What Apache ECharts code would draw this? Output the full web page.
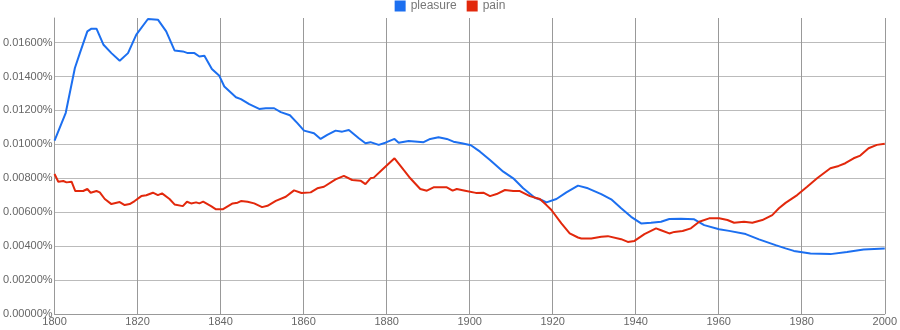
<!DOCTYPE html>
<html>
<head>
<meta charset="utf-8">
<script src="https://cdn.jsdelivr.net/npm/echarts@6/dist/echarts.min.js"></script>
<style>
html,body{margin:0;padding:0;background:#fff;}
#chart{width:900px;height:330px;}
</style>
</head>
<body>
<div id="chart"></div>
<script>
const seriesNames = ['pleasure', 'pain'];
const xTicks = [1800, 1820, 1840, 1860, 1880, 1900, 1920, 1940, 1960, 1980, 2000];

const pleasureYears = [1800,1802.7,1804.9,1806.1,1807.9,1808.9,1810.1,1811.8,1813.7,1815.7,1817.7,1819.7,1822.5,1824.9,1826.9,1828.9,1830.9,1832.1,1833.7,1834.9,1836.1,1837.9,1839.7,1840.9,1843.7,1844.9,1846.9,1849.3,1850.9,1852.9,1854.5,1856.7,1858.5,1860.1,1862.5,1864.1,1865.7,1867.7,1869.3,1870.9,1873.3,1874.9,1876.1,1878.1,1879.7,1881.9,1882.9,1885.3,1888.9,1890.5,1892.5,1894.5,1896.1,1898.1,1900.3,1902.5,1904.9,1908.1,1910.5,1912.9,1915.7,1917.3,1918.5,1920.9,1923.3,1926.1,1928.5,1931.7,1934.1,1936.5,1938.9,1941.3,1943.7,1946.1,1948.1,1950.9,1954.1,1956.5,1960.1,1962.5,1966.5,1969.7,1973.7,1976.1,1978.1,1982.1,1986.9,1990.9,1994.9,2000];
const pleasureValues = [0.01022,0.01186,0.01450,0.01538,0.01666,0.01682,0.01682,0.01587,0.01538,0.01493,0.01538,0.01647,0.01739,0.01735,0.01666,0.01554,0.01548,0.01538,0.01538,0.01518,0.01522,0.01444,0.01404,0.01341,0.01278,0.01267,0.01237,0.01209,0.01213,0.01213,0.01190,0.01172,0.01125,0.01081,0.01066,0.01032,0.01056,0.01081,0.01075,0.01085,0.01036,0.01007,0.01013,0.00997,0.01010,0.01032,0.01010,0.01020,0.01013,0.01032,0.01042,0.01032,0.01016,0.01007,0.00995,0.00957,0.00908,0.00839,0.00800,0.00741,0.00685,0.00672,0.00658,0.00678,0.00717,0.00757,0.00741,0.00707,0.00676,0.00623,0.00573,0.00534,0.00538,0.00544,0.00560,0.00561,0.00558,0.00524,0.00500,0.00490,0.00471,0.00440,0.00406,0.00387,0.00372,0.00357,0.00353,0.00366,0.00380,0.00386];

const painYears = [1800,1800.9,1802.1,1802.9,1804.1,1805.0,1806.9,1807.9,1808.7,1810.1,1810.9,1812.1,1813.7,1815.7,1816.9,1818.1,1819.3,1820.9,1822.1,1823.7,1824.9,1825.9,1827.7,1828.9,1830.9,1831.9,1832.9,1834.1,1834.9,1835.8,1837.7,1838.9,1840.5,1842.9,1844.1,1844.9,1846.5,1848.1,1850.0,1851.3,1853.3,1855.7,1857.7,1859.5,1861.7,1863.3,1864.9,1867.7,1869.7,1871.7,1873.7,1874.9,1876.1,1876.9,1879.3,1881.9,1884.1,1885.7,1888.1,1889.7,1891.3,1894.5,1895.9,1896.9,1898.9,1901.5,1903.3,1904.9,1906.5,1908.5,1910.5,1912.1,1914.5,1916.9,1918.5,1919.7,1922.1,1924.1,1926.1,1926.9,1929.3,1931.7,1933.3,1936.5,1938.1,1939.7,1942.1,1944.9,1946.1,1948.1,1949.3,1951.3,1953.3,1955.3,1957.7,1960.1,1962.1,1963.7,1966.1,1968.1,1970.5,1972.9,1974.5,1976.1,1978.9,1981.3,1983.7,1986.9,1988.9,1990.5,1992.5,1994.1,1996.1,1998.1,2000];
const painValues = [0.00825,0.00780,0.00784,0.00776,0.00780,0.00725,0.00725,0.00737,0.00715,0.00725,0.00717,0.00678,0.00648,0.00660,0.00642,0.00648,0.00666,0.00695,0.00700,0.00715,0.00701,0.00711,0.00678,0.00646,0.00636,0.00662,0.00652,0.00658,0.00652,0.00662,0.00636,0.00617,0.00617,0.00652,0.00656,0.00666,0.00662,0.00652,0.00630,0.00638,0.00667,0.00691,0.00729,0.00713,0.00717,0.00741,0.00750,0.00794,0.00814,0.00790,0.00786,0.00766,0.00800,0.00804,0.00859,0.00918,0.00849,0.00800,0.00737,0.00727,0.00747,0.00747,0.00727,0.00737,0.00727,0.00714,0.00715,0.00695,0.00707,0.00731,0.00725,0.00725,0.00695,0.00678,0.00642,0.00613,0.00534,0.00475,0.00451,0.00445,0.00445,0.00455,0.00459,0.00441,0.00425,0.00431,0.00471,0.00505,0.00494,0.00475,0.00484,0.00489,0.00505,0.00544,0.00564,0.00564,0.00554,0.00538,0.00544,0.00538,0.00554,0.00583,0.00623,0.00655,0.00701,0.00750,0.00800,0.00859,0.00873,0.00889,0.00918,0.00934,0.00977,0.00997,0.01003];

const pairs = (xs, ys) => xs.map((x, i) => [x, ys[i]]);
const FONT = '"Liberation Sans", Arial, sans-serif';

const chart = echarts.init(document.getElementById('chart'), null, {renderer: 'canvas'});
chart.setOption({
  animation: false,
  backgroundColor: '#ffffff',
  textStyle: {fontFamily: FONT},
  legend: {
    top: 0, left: 'center', padding: [0, 5, 0, 5],
    itemWidth: 11, itemHeight: 11, itemGap: 10,
    icon: 'rect',
    textStyle: {fontFamily: FONT, fontSize: 12, color: '#777'},
    data: seriesNames
  },
  grid: {left: 53, right: 14, top: 18, bottom: 16, containLabel: false},
  xAxis: {
    type: 'value', min: xTicks[0], max: xTicks[xTicks.length - 1], interval: 20,
    axisLine: {show: true, lineStyle: {color: '#999', width: 1}},
    axisTick: {show: false},
    axisLabel: {color: '#666', fontSize: 11, fontFamily: FONT, margin: 2,
      formatter: v => String(v)},
    splitLine: {show: true, lineStyle: {color: '#999', width: 1}}
  },
  yAxis: {
    type: 'value', min: 0, max: 0.01745, interval: 0.002,
    axisLine: {show: true, lineStyle: {color: '#999', width: 1}},
    axisTick: {show: false},
    axisLabel: {color: '#666', fontSize: 11, fontFamily: FONT, margin: 2,
      showMaxLabel: false,
      formatter: v => v.toFixed(5) + '%'},
    splitLine: {show: true, showMaxLine: false, lineStyle: {color: '#bbb', width: 1}}
  },
  series: [
    {name: seriesNames[0], type: 'line', data: pairs(pleasureYears, pleasureValues),
     showSymbol: false, symbol: 'none', color: '#1c6ff0',
     lineStyle: {width: 2, color: '#1c6ff0'}},
    {name: seriesNames[1], type: 'line', data: pairs(painYears, painValues),
     showSymbol: false, symbol: 'none', color: '#e2280c',
     lineStyle: {width: 2, color: '#e2280c'}}
  ]
});
</script>
</body>
</html>
